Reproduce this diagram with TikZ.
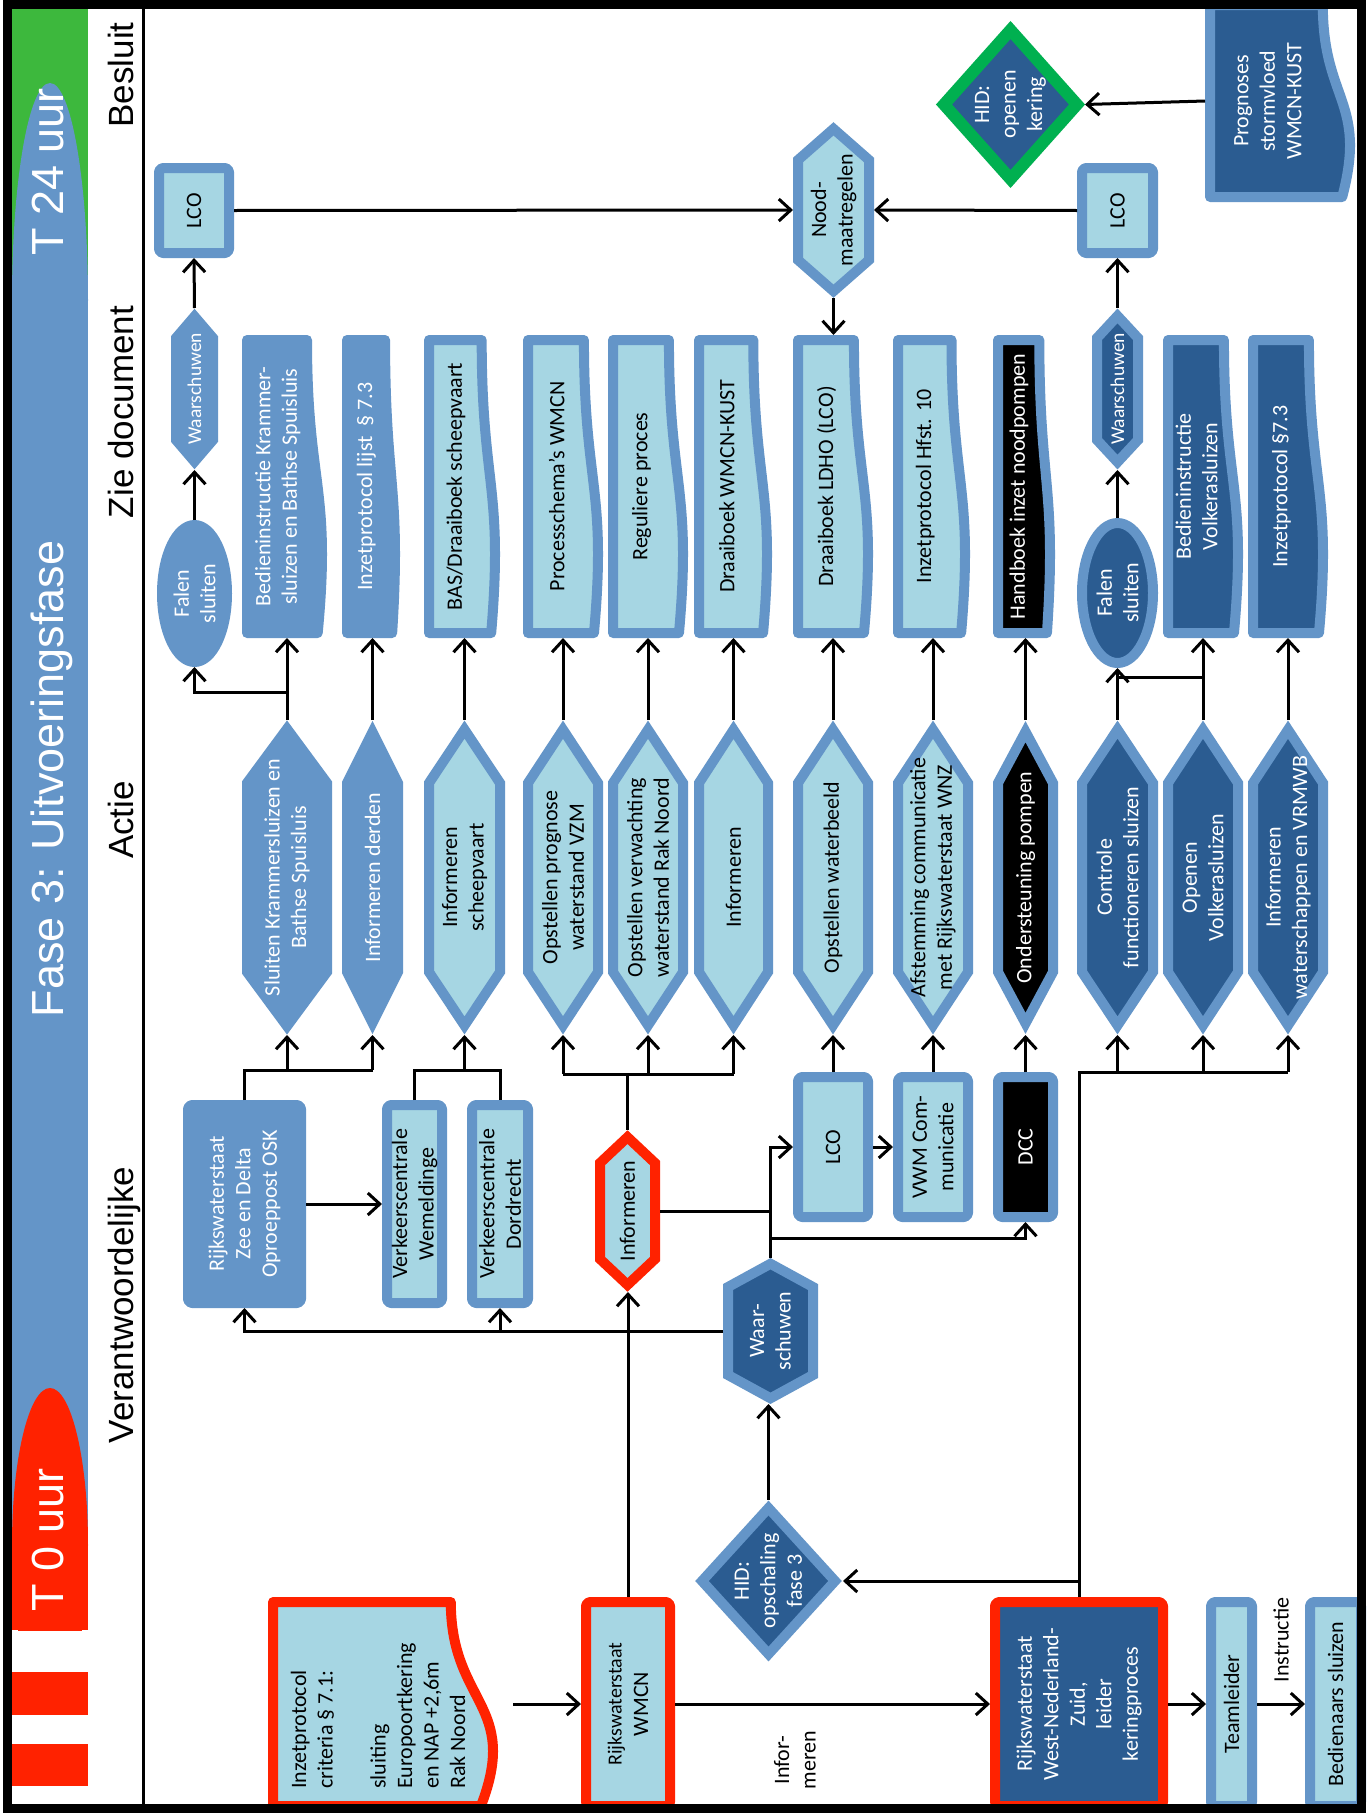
\documentclass[tikz,border=0pt]{standalone}
\usepackage{fontspec}
\setmainfont{Carlito}
\newfontfamily\hdrfont{Liberation Sans}
\usetikzlibrary{arrows.meta,fit}
\definecolor{cMed}{HTML}{6495C8}
\definecolor{cLite}{HTML}{A6D6E3}
\definecolor{cDark}{HTML}{2B5C91}
\definecolor{cRed}{HTML}{FF2200}
\definecolor{cGrn}{HTML}{00B050}
\definecolor{cBand}{HTML}{3DB83D}
\newcommand\nodefont{\fontsize{22}{26.5}\selectfont}
\newcommand\smallnodefont{\fontsize{19.5}{23}\selectfont}
\tikzset{
 sh-A/.style={fill=cMed, draw=cMed},
 sh-L/.style={fill=cLite, draw=cMed},
 sh-D/.style={fill=cDark, draw=cMed},
 sh-K/.style={fill=black, draw=cMed},
 sh-RL/.style={fill=cLite, draw=cRed},
 sh-RD/.style={fill=cDark, draw=cRed},
 sh-GD/.style={fill=cDark, draw=cGrn, line width=12pt},
 tx-A/.style={text=white}, tx-L/.style={text=black}, tx-D/.style={text=white},
 tx-K/.style={text=white}, tx-RL/.style={text=black}, tx-RD/.style={text=white},
 tx-GD/.style={text=white},
 bord/.style={line width=10pt, line join=round},
 rtxt/.style={rotate=90, align=center, font=\nodefont, inner sep=0pt},
 fitbox/.style={inner sep=0pt, outer sep=0pt},
 conn/.style={line width=3pt, draw=black},
 arr/.style={conn, -{Straight Barb[length=12pt,width=22pt]}},
 hdr/.style={rotate=90, anchor=base, inner sep=0pt, font=\hdrfont\fontsize{35}{40}\selectfont},
}
% name x1 y1 x2 y2 scheme text
\newcommand\RBox[7]{%
  \draw[bord, sh-#6, rounded corners=4pt] ({#2+5},{#3+5}) rectangle ({#4-5},{#5-5});
  \node[fitbox, fit={(#2,#3) (#4,#5)}] (#1) {};
  \node[rtxt, tx-#6] (#1-t) at (#1.center) {#7};}
% name x1 y1 x2 y2 chamfer scheme text
\newcommand\Hex[8]{%
  \pgfmathsetmacro\hHw{(#4-#2)/2-5}%
  \pgfmathsetmacro\hT{min(5/sin(atan(\hHw/(#6-5))),12)}%
  \draw[bord, sh-#7, line join=miter] ({(#2+#4)/2},{#3+\hT}) -- ({#4-5},{#3+#6}) -- ({#4-5},{#5-#6}) -- ({(#2+#4)/2},{#5-\hT}) -- ({#2+5},{#5-#6}) -- ({#2+5},{#3+#6}) -- cycle;
  \node[fitbox, fit={(#2,#3) (#4,#5)}] (#1) {};
  \node[rtxt, tx-#7] (#1-t) at (#1.center) {#8};}
\newcommand\Dia[7]{%
  \draw[bord, sh-#6, line join=miter] ({(#2+#4)/2},{#3+8}) -- ({#4-8},{(#3+#5)/2}) -- ({(#2+#4)/2},{#5-8}) -- ({#2+8},{(#3+#5)/2}) -- cycle;
  \node[fitbox, fit={(#2,#3) (#4,#5)}] (#1) {};
  \node[rtxt, tx-#6] (#1-t) at (#1.center) {#7};}
\newcommand\Ell[7]{%
  \pgfmathsetmacro\eRx{(#4-#2)/2-5}%
  \pgfmathsetmacro\eRy{(#5-#3)/2-5}%
  \draw[bord, sh-#6] ({(#2+#4)/2},{(#3+#5)/2}) ellipse [x radius=\eRx pt, y radius=\eRy pt];
  \node[fitbox, fit={(#2,#3) (#4,#5)}] (#1) {};
  \node[rtxt, tx-#6] (#1-t) at (#1.center) {#7};}
\newcommand\Doc[7]{%
  \pgfmathsetmacro\dW{(#4-5-#2)/0.987}%
  \pgfmathsetmacro\dXa{#2+0.802*\dW}%
  \pgfmathsetmacro\dXb{#2+1.107*\dW}%
  \pgfmathsetmacro\dXc{#2+0.934*\dW}%
  \pgfmathsetmacro\dYm{(#3+#5)/2}%
  \pgfmathsetmacro\dXt{#2+0.42*(#4-#2)}%
  \draw[bord, sh-#6] ({#2+5},{#3+5}) -- (\dXa,{#3+5}) .. controls (\dXa,\dYm) and (\dXb,\dYm) .. (\dXc,{#5-5}) -- ({#2+5},{#5-5}) -- cycle;
  \node[fitbox, fit={(#2,#3) (#4,#5)}] (#1) {};
  \node[rtxt, tx-#6] (#1-t) at (\dXt,\dYm) {#7};}

\begin{document}
\begin{tikzpicture}[x=1pt,y=-1pt]
\useasboundingbox (0,0) rectangle (1367,1820);
\fill[white] (0,0) rectangle (1367,1820);
% left band
\fill[cBand] (12,9) rectangle (88,300);
\fill[cMed] (12,295) rectangle (88,1630);
\fill[cMed] (50,300) ellipse [x radius=38pt, y radius=217pt];
\begin{scope}
 \clip (12,1300) rectangle (88,1630);
 \fill[cRed] (50,1545) ellipse [x radius=38pt, y radius=157pt];
 \fill[cRed] (12,1545) rectangle (88,1630);
\end{scope}
\fill[cRed] (12,1672) rectangle (88,1715);
\fill[cRed] (12,1744) rectangle (88,1786);
\node[hdr, text=white, font=\hdrfont\fontsize{45}{50}\selectfont] (t24) at (63,172) {T 24 uur};
\node[hdr, text=white, font=\hdrfont\fontsize{45}{50}\selectfont] (title) at (63,779) {Fase 3: Uitvoeringsfase};
\node[hdr, text=white, font=\hdrfont\fontsize{45}{50}\selectfont] (t0) at (63,1540) {T 0 uur};
% headers
\node[hdr] (hBes) at (133,75) {Besluit};
\node[hdr] (hZie) at (133,412) {Zie document};
\node[hdr] (hAct) at (133,820) {Actie};
\node[hdr] (hVer) at (133,1305) {Verantwoordelijke};
\draw[line width=3pt] (143,9) -- (143,1804);

% top (Besluit)
\RBox{lcoA}{154}{163}{234}{258}{L}{LCO}
\RBox{lcoB}{1077}{163}{1158}{258}{L}{LCO}
\Hex{nood}{793}{122}{874}{298}{38}{L}{Nood-\\maatregelen}
\Dia{hidO}{936}{22}{1085}{187}{GD}{HID:\\openen\\kering}
\Doc{prog}{1205}{0}{1355}{202}{D}{Prognoses\\stormvloed\\WMCN-KUST}
\Hex{warnA}{171}{308}{218}{470}{30}{A}{\smallnodefont Waarschuwen}
\Hex{warnB}{1092}{308}{1143}{470}{30}{D}{\smallnodefont Waarschuwen}
\Ell{falA}{157}{520}{232}{667}{A}{Falen\\sluiten}
\Ell{falB}{1077}{518}{1158}{668}{D}{Falen\\sluiten}

% documents
\Doc{d1}{242}{335}{327}{638}{A}{Bedieninstructie Krammer-\\sluizen en Bathse Spuisluis}
\Doc{d2}{342}{335}{400}{638}{A}{Inzetprotocol lijst \ § 7.3}
\Doc{d3}{424}{335}{500}{638}{L}{BAS/Draaiboek scheepvaart}
\Doc{d4}{523}{335}{603}{638}{L}{Processchema’s WMCN}
\Doc{d5}{608}{335}{688}{638}{L}{Reguliere proces}
\Doc{d6}{694}{335}{772}{638}{L}{Draaiboek WMCN-KUST}
\Doc{d7}{793}{335}{873}{638}{L}{Draaiboek LDHO (LCO)}
\Doc{d8}{893}{335}{970}{638}{L}{Inzetprotocol Hfst. 10}
\Doc{d9}{993}{335}{1055}{638}{K}{Handboek inzet noodpompen}
\Doc{d10}{1163}{335}{1243}{638}{D}{Bedieninstructie\\Volkerasluizen}
\Doc{d11}{1248}{335}{1328}{638}{D}{Inzetprotocol §7.3}

% actions
\Hex{a1}{242}{720}{332}{1035}{63}{A}{Sluiten Krammersluizen en\\Bathse Spuisluis}
\Hex{a2}{342}{720}{403}{1035}{63}{A}{Informeren derden}
\Hex{a3}{424}{720}{505}{1035}{63}{L}{Informeren\\scheepvaart}
\Hex{a4}{523}{720}{603}{1035}{63}{L}{Opstellen prognose\\waterstand VZM}
\Hex{a5}{608}{720}{688}{1035}{63}{L}{Opstellen verwachting\\waterstand Rak Noord}
\Hex{a6}{694}{720}{773}{1035}{63}{L}{Informeren}
\Hex{a7}{793}{720}{873}{1035}{63}{L}{Opstellen waterbeeld}
\Hex{a8}{893}{720}{973}{1035}{63}{L}{Afstemming communicatie\\met Rijkswaterstaat WNZ}
\Hex{a9}{993}{720}{1058}{1035}{63}{K}{Ondersteuning pompen}
\Hex{a10}{1077}{720}{1158}{1035}{63}{D}{Controle\\functioneren sluizen}
\Hex{a11}{1163}{720}{1243}{1035}{63}{D}{Openen\\Volkerasluizen}
\Hex{a12}{1248}{720}{1328}{1035}{63}{D}{Informeren\\waterschappen en VRMWB}

% responsible
\RBox{osk}{183}{1100}{306}{1308}{A}{Rijkswaterstaat\\Zee en Delta\\Oproeppost OSK}
\RBox{wem}{382}{1100}{447}{1308}{L}{Verkeerscentrale\\Wemeldinge}
\RBox{dor}{467}{1100}{533}{1308}{L}{Verkeerscentrale\\Dordrecht}
\Hex{inf}{595}{1130}{660}{1292}{33}{RL}{Informeren}
\RBox{lcoC}{793}{1072}{873}{1222}{L}{LCO}
\RBox{vwm}{893}{1072}{973}{1222}{L}{VWM Com-\\municatie}
\RBox{dcc}{993}{1072}{1058}{1222}{K}{DCC}
\Hex{warnC}{723}{1258}{818}{1404}{29}{D}{Waar-\\schuwen}
\Dia{hidS}{694}{1500}{843}{1662}{D}{HID:\\opschaling\\fase 3}
\RBox{wmcn}{581}{1597}{675}{1811}{RL}{\fontsize{20}{24}\selectfont Rijkswaterstaat\\WMCN}
\Doc{crit}{268}{1597}{498}{1811}{RL}{}
\node[rtxt, align=left, anchor=west] (critT) at (378,1789) {Inzetprotocol\\criteria § 7.1:\\~\\sluiting\\Europoortkering\\en NAP +2,6m\\Rak Noord};
\RBox{rwz}{990}{1597}{1168}{1811}{RD}{Rijkswaterstaat\\West-Nederland-\\Zuid,\\leider\\keringproces}
\RBox{team}{1206}{1597}{1257}{1811}{L}{Teamleider}
\RBox{bed}{1305}{1597}{1366}{1811}{L}{Bedienaars sluizen}
\node[rtxt] (lblInf) at (795,1760) {Infor-\\meren};
\node[rtxt] (lblIns) at (1281,1640) {Instructie};

% connectors
\draw[arr] (warnA.north) -- (lcoA.south);
\draw[arr] (falA.north) -- (warnA.south);
\draw[arr] (lcoA.east) -- (nood.west);
\draw[arr] (lcoB.west) -- (nood.east);
\draw[arr] (nood.south) -- (nood.south |- d7.north);
\draw[arr] (warnB.north) -- (lcoB.south);
\draw[arr] (falB.north) -- (warnB.south);
\draw[arr] (prog.west) -- (hidO.east);
\foreach \i in {1,...,9} \draw[arr] (a\i.north) -- (a\i.north |- d\i.south);
\draw[arr] (a10.north) -- (a10.north |- falB.south);
\draw[arr] (a11.north) -- (a11.north |- d10.south);
\draw[arr] (a12.north) -- (a12.north |- d11.south);
\coordinate (jA) at ([yshift=28pt]a1.north);
\draw[arr] (jA) -| (falA.south);
\coordinate (jB) at ([yshift=43pt]a11.north);
\draw[conn] (jB) -- (jB -| a10.north);
\coordinate (jO) at ([yshift=30pt]osk.north);
\draw[conn] (osk.north) -- (jO) -- (jO -| a2.south);
\draw[arr] (jO -| a1.south) -- (a1.south);
\draw[arr] (jO -| a2.south) -- (a2.south);
\draw[arr] (osk.east) -- (wem.west);
\coordinate (jW) at ([yshift=30pt]wem.north);
\draw[conn] (wem.north) -- (jW) -- (jW -| dor.north) -- (dor.north);
\draw[arr] (jW -| a3.south) -- (a3.south);
\coordinate (jI) at ([yshift=56pt]inf.north);
\draw[conn] (inf.north) -- (jI);
\draw[conn] (jI -| a4.south) -- (jI -| a6.south);
\foreach \k in {4,5,6} \draw[arr] (jI -| a\k.south) -- (a\k.south);
\draw[arr] (wmcn.north) -- (wmcn.north |- inf.south);
\draw[arr] (warnC.north) |- (lcoC.west);
\draw[conn] (inf.east) -- (inf.east -| warnC.north);
\coordinate (jD) at ([yshift=20pt]warnC.north);
\draw[arr] (jD) -| (dcc.south);
\draw[arr] (warnC.west) -| (osk.south);
\draw[arr] (warnC.west -| dor.south) -- (dor.south);
\draw[arr] (lcoC.north) -- (a7.south);
\draw[arr] (lcoC.east) -- (vwm.west);
\draw[arr] (vwm.north) -- (vwm.north |- a8.south);
\draw[arr] (dcc.north) -- (dcc.north |- a9.south);
\draw[arr] (hidS.north) -- (hidS.north |- warnC.south);
\coordinate (jR) at (rwz.north |- lcoC.north);
\draw[conn] (rwz.north) -- (jR) -- (jR -| a12.south);
\foreach \k in {10,11,12} \draw[arr] (jR -| a\k.south) -- (a\k.south);
\draw[arr] (hidS.east -| rwz.north) -- (hidS.east);
\draw[arr, shorten <=15pt] (crit.east) -- (wmcn.west);
\draw[arr] (wmcn.east) -- (rwz.west);
\draw[arr] (rwz.east) -- (team.west);
\draw[arr] (team.east) -- (bed.west);

% frame
\draw[line width=9pt] (7.5,4.5) rectangle (1361.5,1808.5);
\end{tikzpicture}
\end{document}
